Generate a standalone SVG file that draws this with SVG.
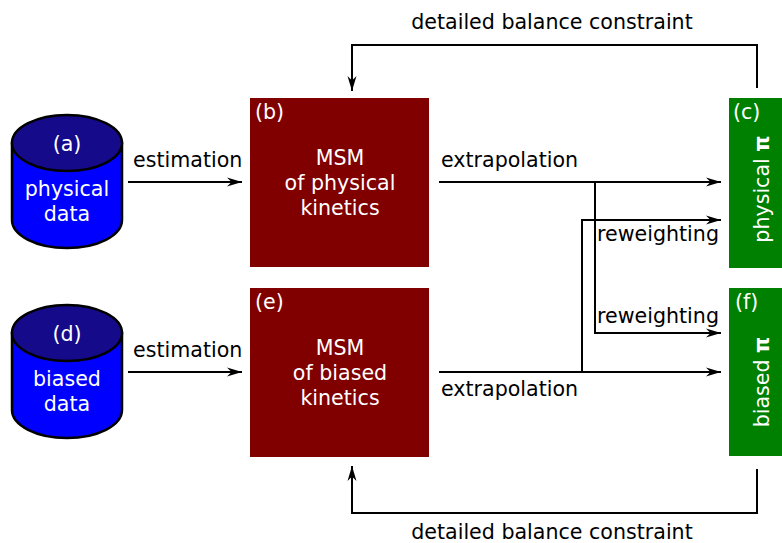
<svg xmlns="http://www.w3.org/2000/svg" width="782" height="543" viewBox="0 0 782 543">
<defs>
<style>
text{font-family:"DejaVu Sans","Liberation Sans",sans-serif;font-size:20.6px}
.lbl{fill:#000}
.w{fill:#fff}
.c{text-anchor:middle}
.con{fill:none;stroke:#000;stroke-width:2}
.body{fill:#0000ff;stroke:#000;stroke-width:2.5}
.top{fill:#150a8a;stroke:#000;stroke-width:2.5}
.msm{fill:#800000}
.pi{fill:#008000}
</style>
<marker id="ah" markerUnits="userSpaceOnUse" markerWidth="20" markerHeight="12" viewBox="-16 -6 18 12" refX="0" refY="0" orient="auto">
<path d="M0,0 L-15,-4.5 L-10.5,0 L-15,4.5 Z" fill="#000"/>
</marker>
</defs>
<rect width="782" height="543" fill="#fff"/>
<g id="connectors">
<path class="con" d="M757,88 V45 H352 V91" marker-end="url(#ah)"/>
<path class="con" d="M757,469 V513 H352 V466" marker-end="url(#ah)"/>
<path class="con" d="M128,182 H242" marker-end="url(#ah)"/>
<path class="con" d="M128,372 H242" marker-end="url(#ah)"/>
<path class="con" d="M439,182 H721" marker-end="url(#ah)"/>
<path class="con" d="M595,182 V333 H721" marker-end="url(#ah)"/>
<path class="con" d="M439,372 H721" marker-end="url(#ah)"/>
<path class="con" d="M582,372 V220 H721" marker-end="url(#ah)"/>
<text class="lbl" x="133" y="167">estimation</text>
<text class="lbl" x="133" y="357">estimation</text>
<text class="lbl" x="441" y="167">extrapolation</text>
<text class="lbl" x="441" y="396">extrapolation</text>
<text class="lbl" x="597" y="241">reweighting</text>
<text class="lbl" x="597" y="323">reweighting</text>
<text class="lbl c" x="552" y="29">detailed balance constraint</text>
<text class="lbl c" x="552" y="539">detailed balance constraint</text>
</g>
<g id="a">
<path class="body" d="M12,143 V220 A55,28 0 0 0 122,220 V143 Z"/>
<ellipse class="top" cx="67" cy="143" rx="55" ry="28"/>
<text class="w c" x="67" y="151">(a)</text>
<text class="w c" x="67" y="196">physical</text>
<text class="w c" x="67" y="221">data</text>
</g>
<g id="d">
<path class="body" d="M12,333 V410 A55,28 0 0 0 122,410 V333 Z"/>
<ellipse class="top" cx="67" cy="333" rx="55" ry="28"/>
<text class="w c" x="67" y="341">(d)</text>
<text class="w c" x="67" y="386">biased</text>
<text class="w c" x="67" y="411">data</text>
</g>
<g id="b">
<rect class="msm" x="250" y="98" width="179" height="169"/>
<text class="w" x="255" y="119">(b)</text>
<text class="w c" x="340" y="165">MSM</text>
<text class="w c" x="340" y="190">of physical</text>
<text class="w c" x="340" y="215">kinetics</text>
</g>
<g id="e">
<rect class="msm" x="250" y="288" width="179" height="169"/>
<text class="w" x="255" y="309">(e)</text>
<text class="w c" x="340" y="355">MSM</text>
<text class="w c" x="340" y="380">of biased</text>
<text class="w c" x="340" y="405">kinetics</text>
</g>
<g id="c">
<rect class="pi" x="729" y="98" width="53" height="170"/>
<text class="w" x="733" y="119">(c)</text>
<text class="w c" transform="translate(769,189) rotate(-90)">physical <tspan font-weight="bold">π</tspan></text>
</g>
<g id="f">
<rect class="pi" x="729" y="288" width="53" height="168"/>
<text class="w" x="735" y="309">(f)</text>
<text class="w c" transform="translate(769,382) rotate(-90)">biased <tspan font-weight="bold">π</tspan></text>
</g>
</svg>
